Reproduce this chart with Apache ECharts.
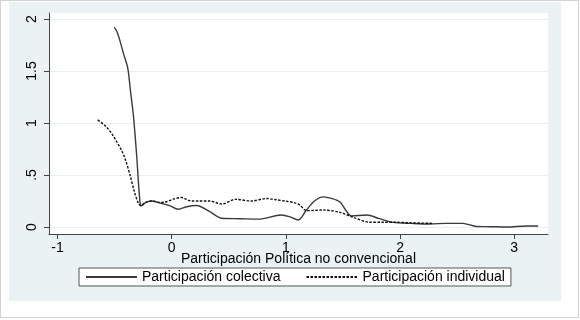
<!DOCTYPE html>
<html>
<head>
<meta charset="utf-8">
<script src="https://cdn.jsdelivr.net/npm/echarts@6/dist/echarts.min.js"></script>
<style>
  body { margin: 0; background: #fff; }
  #frame { position: absolute; left: 0; top: 0; width: 577px; height: 316px; border: 1px solid #d2d2d2; }
  #bg { position: absolute; left: 9px; top: 2px; width: 552px; height: 299px; background: #eaf2f3; }
  #chart { position: absolute; left: 0; top: 0; width: 580px; height: 320px; }
</style>
</head>
<body>
<div id="frame"></div>
<div id="bg"></div>
<div id="chart"></div>
<script>
// Participación colectiva (línea continua)
var xColectiva = [-0.503, -0.48, -0.453, -0.42, -0.385, -0.36, -0.336, -0.307, -0.278, -0.263,
  -0.23, -0.175, -0.1, -0.02, 0.058, 0.13, 0.219, 0.33, 0.44, 0.6, 0.76, 0.96, 1.03, 1.109,
  1.18, 1.25, 1.328, 1.4, 1.474, 1.576, 1.708, 1.82, 1.94, 2.1, 2.26, 2.4, 2.55, 2.67, 2.8, 2.93, 3.11, 3.21];
var yColectiva = [1.92, 1.88, 1.79, 1.66, 1.53, 1.3, 1.08, 0.69, 0.243, 0.205,
  0.235, 0.25, 0.23, 0.205, 0.17, 0.195, 0.207, 0.15, 0.084, 0.08, 0.076, 0.115, 0.1, 0.067,
  0.163, 0.25, 0.29, 0.275, 0.24, 0.106, 0.115, 0.08, 0.045, 0.035, 0.029, 0.035, 0.035, 0.005, 0.003, 0.0, 0.01, 0.01];

// Participación individual (línea discontinua)
var xIndividual = [-0.648, -0.6, -0.569, -0.52, -0.482, -0.44, -0.409, -0.365, -0.327, -0.292, -0.269,
  -0.23, -0.175, -0.1, -0.044, 0.02, 0.088, 0.17, 0.23, 0.33, 0.44, 0.56, 0.7, 0.83, 0.9, 1.007,
  1.07, 1.124, 1.18, 1.25, 1.328, 1.474, 1.59, 1.737, 1.85, 1.97, 2.1, 2.29];
var yIndividual = [1.03, 0.99, 0.96, 0.89, 0.82, 0.74, 0.66, 0.5, 0.34, 0.228, 0.205,
  0.235, 0.25, 0.235, 0.243, 0.27, 0.283, 0.25, 0.25, 0.25, 0.221, 0.266, 0.25, 0.274, 0.265, 0.247,
  0.235, 0.21, 0.157, 0.16, 0.163, 0.141, 0.093, 0.045, 0.045, 0.045, 0.04, 0.035];

var xTicks = [-1, 0, 1, 2, 3];
var yTicks = [0, 0.5, 1, 1.5, 2];
var yTickLabels = ['0', '.5', '1', '1.5', '2'];

function pares(xs, ys) {
  return xs.map(function (x, i) { return [x, ys[i]]; });
}

var font = '"Liberation Sans", Arial, sans-serif';
var chart = echarts.init(document.getElementById('chart'));

chart.setOption({
  animation: false,
  backgroundColor: 'transparent',
  textStyle: { fontFamily: font },
  grid: {
    left: 49, top: 13, right: 32, bottom: 86,
    show: true, backgroundColor: '#ffffff', borderWidth: 0
  },
  xAxis: {
    type: 'value',
    min: -1.0745, max: 3.2957,
    name: 'Participación Política no convencional',
    nameLocation: 'middle',
    nameGap: 18,
    nameMoveOverlap: false,
    nameTextStyle: { fontSize: 14, color: '#000', fontFamily: font, verticalAlign: 'top' },
    axisLine: { show: true, onZero: false, lineStyle: { color: '#444', width: 1 } },
    axisTick: { show: true, length: 5, customValues: xTicks, lineStyle: { color: '#444' } },
    axisLabel: { customValues: xTicks, margin: 7, fontSize: 14, color: '#000', fontFamily: font },
    splitLine: { show: false }
  },
  yAxis: {
    type: 'value',
    min: -0.0673, max: 2.0577,
    axisLine: { show: true, onZero: false, lineStyle: { color: '#444', width: 1 } },
    axisTick: { show: true, length: 5, customValues: yTicks, lineStyle: { color: '#444' } },
    axisLabel: {
      customValues: yTicks, rotate: 90, margin: 10, fontSize: 14, color: '#000', fontFamily: font,
      formatter: function (v) { return yTickLabels[yTicks.indexOf(v)]; }
    },
    splitLine: { show: true, lineStyle: { color: '#e6eef0', width: 1 } }
  },
  legend: {
    left: 79, top: 268,
    padding: [2, 6, 2, 6],
    itemWidth: 51, itemHeight: 14,
    itemGap: 25, itemTextGap: 14,
    backgroundColor: '#ffffff',
    borderColor: '#555', borderWidth: 1,
    itemStyle: { opacity: 0 },
    textStyle: { fontSize: 14, color: '#000', fontFamily: font },
    data: ['Participación colectiva', 'Participación individual']
  },
  series: [{
    name: 'Participación colectiva',
    type: 'line',
    symbol: 'none',
    smooth: 0.3,
    lineStyle: { color: '#3a3a3a', width: 1.4, type: 'solid' },
    itemStyle: { color: '#3a3a3a' },
    data: pares(xColectiva, yColectiva)
  }, {
    name: 'Participación individual',
    type: 'line',
    symbol: 'none',
    smooth: 0.3,
    lineStyle: { color: '#111', width: 1.4, type: [2.5, 1.5] },
    itemStyle: { color: '#111' },
    data: pares(xIndividual, yIndividual)
  }]
});
</script>
</body>
</html>
